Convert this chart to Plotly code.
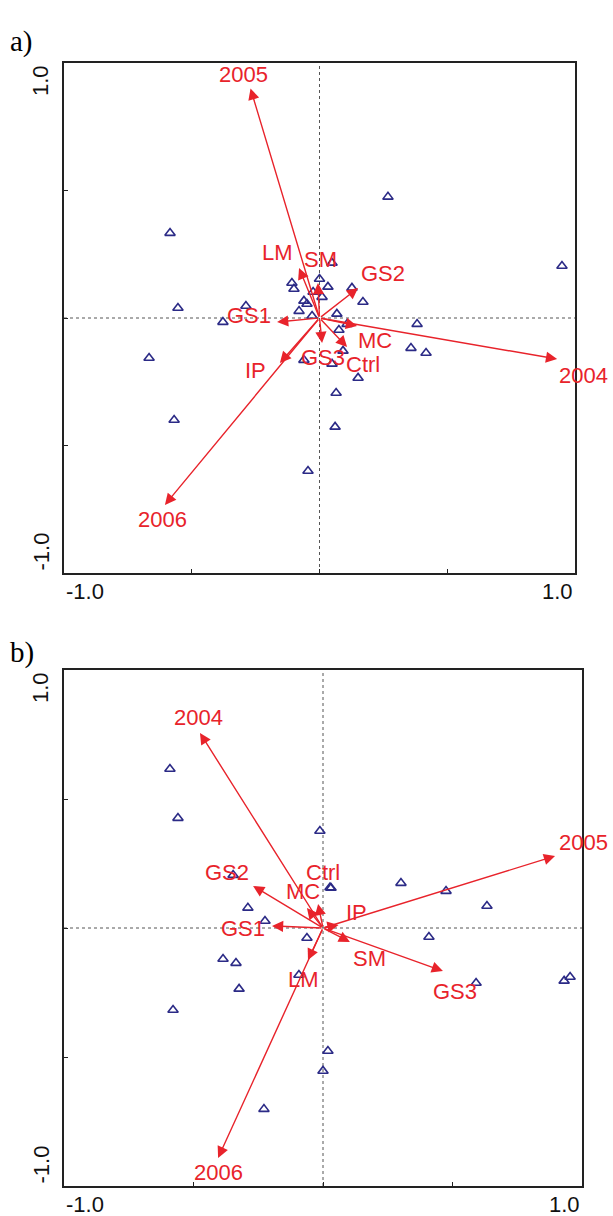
import plotly.graph_objects as go

# ---------------- Panel a data ----------------
a_site_x = [0.268, -0.585, 0.949, -0.554, -0.378, -0.288, -0.667, -0.569, -0.045,
            -0.108, -0.100, 0.000, 0.033, 0.049, 0.127, 0.170, -0.061, -0.049,
            -0.025, 0.010, -0.080, -0.029, 0.068, 0.108, 0.076, 0.092, -0.061,
            0.049, 0.151, 0.065, 0.061, 0.382, 0.358, 0.417]
a_site_y = [0.475, 0.333, 0.204, 0.039, -0.016, 0.047, -0.157, -0.400, -0.600,
            0.137, 0.114, 0.153, 0.122, 0.216, 0.118, 0.063, 0.067, 0.055,
            0.102, 0.082, 0.027, 0.008, 0.016, -0.024, -0.047, -0.129, -0.165,
            -0.180, -0.235, -0.294, -0.427, -0.024, -0.118, -0.137]

a_vars = ["2005", "2004", "2006", "LM", "SM", "GS2", "GS1", "MC", "Ctrl", "GS3", "IP"]
a_vec_x = [-0.270, 0.930, -0.605, -0.080, -0.006, 0.151, -0.166, 0.147, 0.108, 0.010, -0.155]
a_vec_y = [0.900, -0.161, -0.733, 0.196, 0.137, 0.118, -0.016, -0.031, -0.114, -0.098, -0.176]
a_lab_x = [-0.299, 1.035, -0.616, -0.166, 0.002, 0.249, -0.276, 0.217, 0.170, 0.014, -0.252]
a_lab_y = [0.953, -0.224, -0.792, 0.255, 0.231, 0.173, 0.008, -0.090, -0.184, -0.153, -0.204]

# ---------------- Panel b data ----------------
b_site_x = [-0.560, -0.591, -0.012, -0.347, 0.031, 0.027, 0.301, 0.475, 0.633, -0.290,
            -0.224, -0.062, 0.409, -0.386, -0.336, -0.324, -0.093, 0.591, -0.579,
            0.954, 0.931, 0.019, 0.000, -0.228]
b_site_y = [0.426, 0.616, 0.376, 0.205, 0.155, 0.157, 0.174, 0.143, 0.085, 0.078,
            0.027, -0.039, -0.035, -0.120, -0.136, -0.236, -0.182, -0.213, -0.318,
            -0.190, -0.205, -0.477, -0.554, -0.702]

b_vars = ["2004", "2005", "2006", "GS3", "SM", "IP", "Ctrl", "MC", "GS2", "GS1", "LM"]
b_vec_x = [-0.475, 0.896, -0.405, 0.463, 0.104, 0.060, -0.019, -0.062, -0.270, -0.197, -0.058]
b_vec_y = [0.756, 0.279, -0.891, -0.167, -0.054, 0.012, 0.093, 0.078, 0.163, 0.008, -0.124]
b_lab_x = [-0.479, 1.004, -0.405, 0.510, 0.181, 0.131, 0.000, -0.077, -0.371, -0.309, -0.077]
b_lab_y = [0.814, 0.333, -0.946, -0.248, -0.120, 0.062, 0.217, 0.140, 0.217, 0.000, -0.198]

AX_RANGE = [-1, 1]

RED = "#e8232b"
NAVY = "#2b2a86"
FONT = "Liberation Sans, Arial, sans-serif"
FS = 22

fig = go.Figure()

for xs, ys, xa, ya in [(a_site_x, a_site_y, "x", "y"), (b_site_x, b_site_y, "x2", "y2")]:
    fig.add_trace(go.Scatter(x=xs, y=ys, mode="markers", xaxis=xa, yaxis=ya,
                             marker=dict(symbol="triangle-up-open", size=9, color=NAVY,
                                         line=dict(width=1.6, color=NAVY)),
                             showlegend=False, hoverinfo="skip"))

annotations = []
shapes = []


def to_dom(v):
    return (v - AX_RANGE[0]) / (AX_RANGE[1] - AX_RANGE[0])


def add_panel(xr, yr, names, vx, vy, lx, ly, letter, letter_y):
    dx = xr + " domain"
    dy = yr + " domain"
    # dotted cross lines
    shapes.append(dict(type="line", xref=xr, yref=yr, x0=0, x1=0, y0=AX_RANGE[0], y1=AX_RANGE[1],
                       line=dict(color="#555555", width=1, dash="dot"), layer="below"))
    shapes.append(dict(type="line", xref=xr, yref=yr, x0=AX_RANGE[0], x1=AX_RANGE[1], y0=0, y1=0,
                       line=dict(color="#555555", width=1, dash="dot"), layer="below"))
    for n, x, y, tx, ty in zip(names, vx, vy, lx, ly):
        annotations.append(dict(x=x, y=y, ax=0, ay=0, xref=xr, yref=yr,
                                axref=xr, ayref=yr, text="", showarrow=True,
                                arrowhead=2, arrowsize=1.6, arrowwidth=1.4,
                                arrowcolor=RED, standoff=0, startstandoff=0))
        annotations.append(dict(x=to_dom(tx), y=to_dom(ty), xref=dx, yref=dy, text=n,
                                showarrow=False, xanchor="center", yanchor="middle",
                                font=dict(family=FONT, size=FS, color=RED)))
    annotations.append(dict(x=0, y=0, xref=dx, yref=dy, text="-1.0", showarrow=False,
                            xanchor="left", yanchor="top", yshift=-4,
                            font=dict(family=FONT, size=FS, color="#111111")))
    annotations.append(dict(x=1, y=0, xref=dx, yref=dy, text="1.0", showarrow=False,
                            xanchor="right", yanchor="top", yshift=-4,
                            font=dict(family=FONT, size=FS, color="#111111")))
    annotations.append(dict(x=0, y=1, xref=dx, yref=dy, text="1.0", showarrow=False,
                            xanchor="right", yanchor="top", xshift=-9, textangle=-90,
                            font=dict(family=FONT, size=FS, color="#111111")))
    annotations.append(dict(x=0, y=0, xref=dx, yref=dy, text="-1.0", showarrow=False,
                            xanchor="right", yanchor="bottom", xshift=-9, textangle=-90,
                            font=dict(family=FONT, size=FS, color="#111111")))
    annotations.append(dict(x=8 / 613, y=letter_y, xref="paper", yref="paper", text=letter,
                            showarrow=False, xanchor="left", yanchor="middle",
                            font=dict(family="Liberation Serif, Times New Roman, serif",
                                      size=29, color="black")))


add_panel("x", "y", a_vars, a_vec_x, a_vec_y, a_lab_x, a_lab_y, "a)", 1 - 42 / 1216)
add_panel("x2", "y2", b_vars, b_vec_x, b_vec_y, b_lab_x, b_lab_y, "b)", 1 - 652 / 1216)

axis_common = dict(range=AX_RANGE, showgrid=False, zeroline=False, showline=True,
                   mirror=True, linecolor="#222222", linewidth=1.5, ticks="inside",
                   ticklen=4, tickcolor="#222222", tickvals=[-1, -0.5, 0, 0.5, 1],
                   showticklabels=False, fixedrange=True)

fig.update_layout(
    width=613, height=1216,
    margin=dict(l=0, r=0, t=0, b=0),
    paper_bgcolor="white", plot_bgcolor="white",
    xaxis=dict(domain=[64 / 613, 575 / 613], anchor="y", **axis_common),
    yaxis=dict(domain=[1 - 573 / 1216, 1 - 63 / 1216], anchor="x", **axis_common),
    xaxis2=dict(domain=[64 / 613, 582 / 613], anchor="y2", **axis_common),
    yaxis2=dict(domain=[1 - 1186 / 1216, 1 - 670 / 1216], anchor="x2", **axis_common),
    annotations=annotations,
    shapes=shapes,
)

fig.write_html("out.html")
